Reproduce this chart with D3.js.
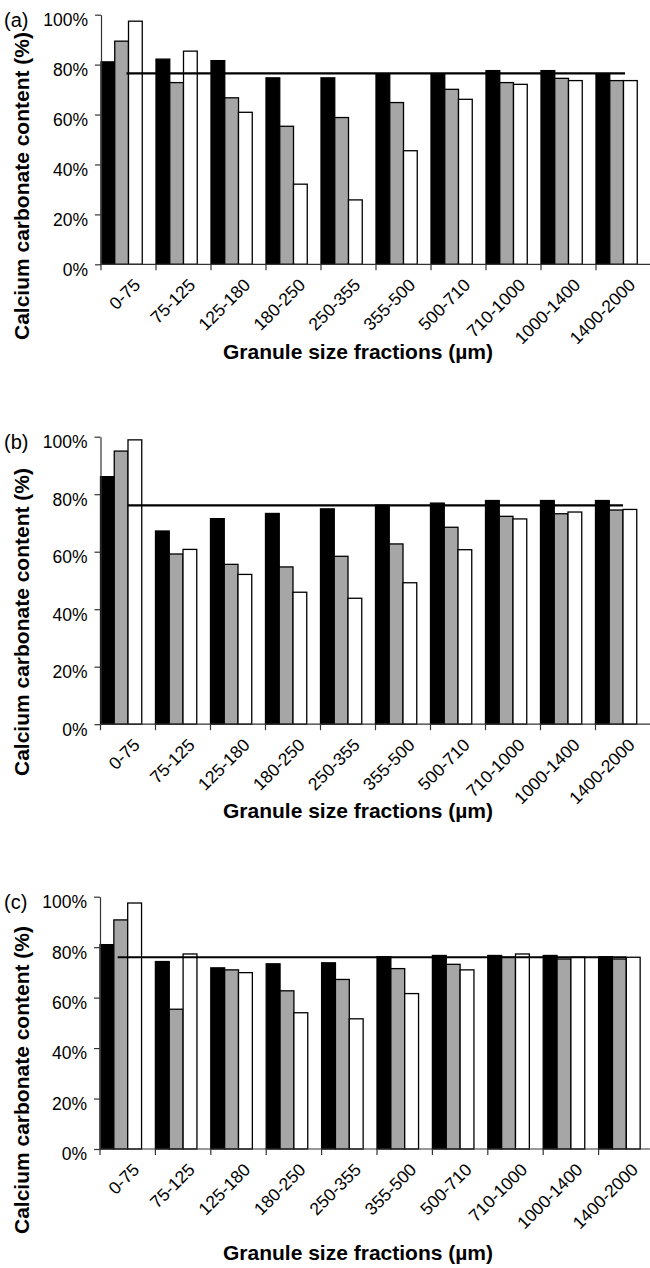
<!DOCTYPE html>
<html>
<head>
<meta charset="utf-8">
<script src="https://cdn.jsdelivr.net/npm/d3@7"></script>
<style>
  body { margin: 0; background: #fff; }
  svg { display: block; }
  text { font-family: "Liberation Sans", Arial, sans-serif; fill: #000; }
</style>
</head>
<body>
<svg id="chart" width="650" height="1268"></svg>
<script>
// Granule size fractions (µm) shared by the three panels
const categories = ["0-75", "75-125", "125-180", "180-250", "250-355", "355-500",
                    "500-710", "710-1000", "1000-1400", "1400-2000"];
const yTickValues = [0, 20, 40, 60, 80, 100];
const panelLetters = ["(a)", "(b)", "(c)"];
const xAxisTitle = "Granule size fractions (µm)";
const yAxisTitle = "Calcium carbonate content (%)";

// Panel (a) calcium carbonate content, %
const seriesA1 = [81.1, 82.2, 81.6, 74.7, 74.7, 76.3, 76.2, 77.6, 77.6, 76.3];
const seriesA2 = [89.4, 72.8, 66.7, 55.3, 58.8, 64.8, 70.1, 72.8, 74.5, 73.6];
const seriesA3 = [97.4, 85.4, 60.9, 32.1, 25.8, 45.5, 66.1, 72.1, 73.6, 73.6];

// Panel (b)
const seriesB1 = [86.1, 67.2, 71.5, 73.3, 74.9, 76.2, 76.9, 77.8, 77.8, 77.8];
const seriesB2 = [95.0, 59.2, 55.6, 54.7, 58.4, 62.7, 68.5, 72.3, 73.2, 74.5];
const seriesB3 = [98.9, 60.8, 52.1, 45.9, 43.8, 49.2, 60.7, 71.4, 73.8, 74.7];

// Panel (c)
const seriesC1 = [81.0, 74.3, 71.8, 73.4, 73.8, 76.2, 76.7, 76.7, 76.7, 76.2];
const seriesC2 = [90.8, 55.4, 71.0, 62.7, 67.2, 71.5, 73.2, 76.0, 75.3, 75.3];
const seriesC3 = [97.5, 77.3, 69.9, 54.0, 51.6, 61.6, 71.0, 77.3, 76.0, 76.0];

// Reference content level drawn as a horizontal line in each panel
const referenceLevels = [76.5, 76.1, 76.0];

const seriesFills = ["#000000", "#a6a6a6", "#ffffff"];

// Layout of each panel (pixels)
const panels = [
  { letter: panelLetters[0], series: [seriesA1, seriesA2, seriesA3], ref: referenceLevels[0],
    x0: 101, step: 55, top: 14.7, bottom: 264.3, yTitleY: 186, xTitleY: 358.5, lineStart: -2, lineEnd: 1.5 },
  { letter: panelLetters[1], series: [seriesB1, seriesB2, seriesB3], ref: referenceLevels[1],
    x0: 100.5, step: 55, top: 436.7, bottom: 724.2, yTitleY: 622, xTitleY: 818, lineStart: 0, lineEnd: 0 },
  { letter: panelLetters[2], series: [seriesC1, seriesC2, seriesC3], ref: referenceLevels[2],
    x0: 100, step: 55.4, top: 896.7, bottom: 1149, yTitleY: 1080, xTitleY: 1259.5, lineStart: -10, lineEnd: 0 }
];

const svg = d3.select("#chart");
svg.append("rect").attr("width", 650).attr("height", 1268).attr("fill", "#fff");

panels.forEach(p => {
  const g = svg.append("g");

  const x = d3.scaleBand()
    .domain(categories)
    .range([p.x0, p.x0 + p.step * categories.length])
    .paddingInner(0).paddingOuter(0);

  // four slots per category: three bars and an empty one
  const xSub = d3.scaleBand().domain([0, 1, 2, 3]).range([0, x.bandwidth()]);

  const y = d3.scaleLinear().domain([0, 100]).range([p.bottom, p.top]);

  // bars
  p.series.forEach((values, si) => {
    g.append("g")
      .selectAll("rect")
      .data(values)
      .join("rect")
      .attr("x", (d, i) => x(categories[i]) + xSub(si))
      .attr("y", d => y(d))
      .attr("width", xSub.bandwidth())
      .attr("height", d => y(0) - y(d))
      .attr("fill", seriesFills[si])
      .attr("stroke", "#000")
      .attr("stroke-width", 1.3);
  });

  // y axis
  const yAxis = g.append("g")
    .attr("transform", `translate(${p.x0},0)`)
    .call(d3.axisLeft(y)
      .tickValues(yTickValues)
      .tickFormat(d => d + "%")
      .tickSize(6)
      .tickSizeOuter(0)
      .tickPadding(7));
  yAxis.select(".domain").attr("stroke", "#333").attr("stroke-width", 1.2);
  yAxis.selectAll(".tick line").attr("stroke", "#333").attr("stroke-width", 1.2);
  yAxis.selectAll(".tick text")
    .attr("dy", "0.62em")
    .attr("font-size", 17.5)
    .attr("fill", "#000");

  // x axis: labels at category centres
  const xAxis = g.append("g")
    .attr("transform", `translate(0,${p.bottom})`)
    .call(d3.axisBottom(x).tickSize(0).tickSizeOuter(0));
  xAxis.select(".domain").remove();
  xAxis.selectAll(".tick text")
    .attr("x", 0).attr("y", 0)
    .attr("dy", "0.71em")
    .attr("text-anchor", "end")
    .attr("transform", "translate(4,13) rotate(-45)")
    .attr("font-size", 17.5)
    .attr("fill", "#000");

  // x axis line with ticks at category boundaries
  g.append("line")
    .attr("x1", p.x0).attr("x2", 650)
    .attr("y1", p.bottom).attr("y2", p.bottom)
    .attr("stroke", "#333").attr("stroke-width", 1.2);
  g.append("g")
    .selectAll("line")
    .data(categories)
    .join("line")
    .attr("x1", d => x(d)).attr("x2", d => x(d))
    .attr("y1", p.bottom).attr("y2", p.bottom + 6)
    .attr("stroke", "#333").attr("stroke-width", 1.2);

  // reference line from first to last category centre
  const half = x.bandwidth() / 2;
  g.append("line")
    .attr("x1", x(categories[0]) + half + p.lineStart)
    .attr("x2", x(categories[categories.length - 1]) + half + p.lineEnd)
    .attr("y1", y(p.ref)).attr("y2", y(p.ref))
    .attr("stroke", "#000").attr("stroke-width", 2.2);

  // panel letter
  g.append("text")
    .attr("x", 4)
    .attr("y", y(100))
    .attr("dy", "0.62em")
    .attr("font-size", 20)
    .text(p.letter);

  // axis titles
  g.append("text")
    .attr("transform", `translate(29,${p.yTitleY}) rotate(-90)`)
    .attr("text-anchor", "middle")
    .attr("font-size", 21)
    .attr("font-weight", "bold")
    .text(yAxisTitle);

  g.append("text")
    .attr("x", 358)
    .attr("y", p.xTitleY)
    .attr("text-anchor", "middle")
    .attr("font-size", 21)
    .attr("font-weight", "bold")
    .text(xAxisTitle);
});
</script>
</body>
</html>
